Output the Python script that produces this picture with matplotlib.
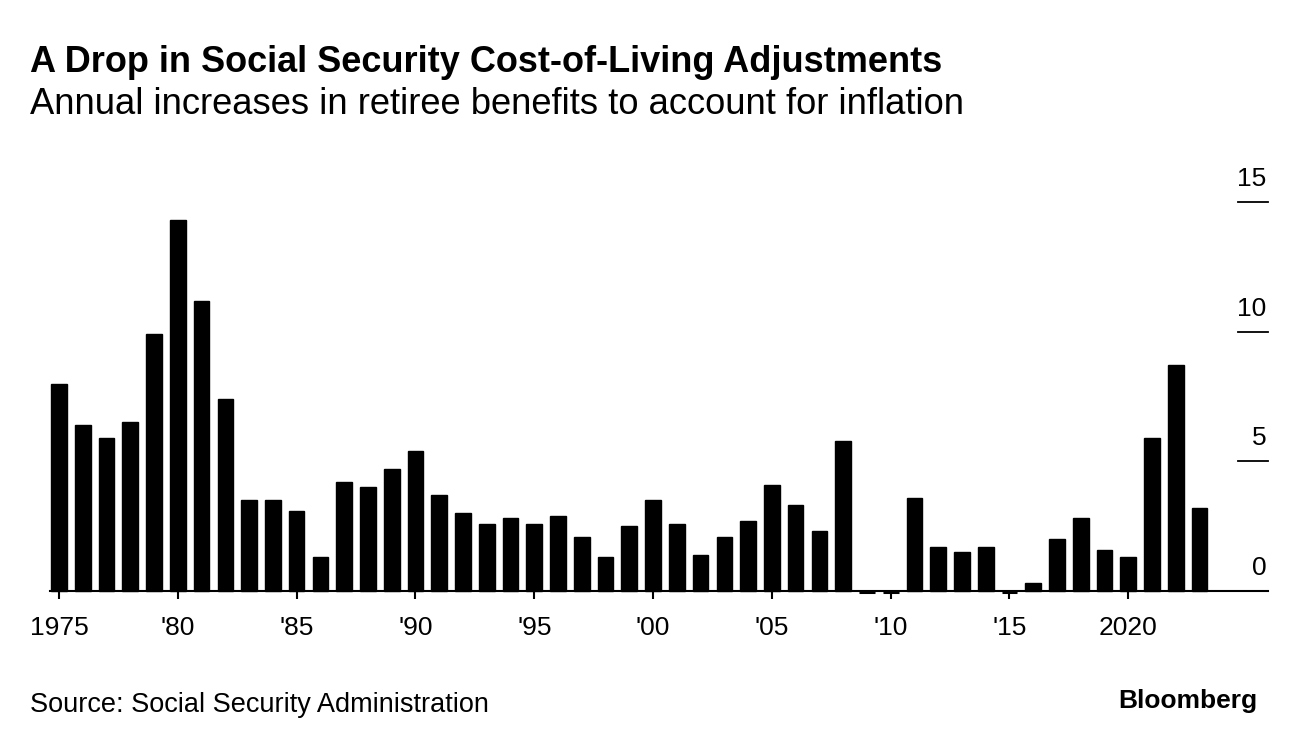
import matplotlib
matplotlib.use("Agg")
import matplotlib.pyplot as plt
from matplotlib.transforms import blended_transform_factory

# Social Security cost-of-living adjustments, percent
years = list(range(1975, 2024))
cola = [8.0, 6.4, 5.9, 6.5, 9.9, 14.3, 11.2, 7.4, 3.5, 3.5,
        3.1, 1.3, 4.2, 4.0, 4.7, 5.4, 3.7, 3.0, 2.6, 2.8,
        2.6, 2.9, 2.1, 1.3, 2.5, 3.5, 2.6, 1.4, 2.1, 2.7,
        4.1, 3.3, 2.3, 5.8, 0.0, 0.0, 3.6, 1.7, 1.5, 1.7,
        0.0, 0.3, 2.0, 2.8, 1.6, 1.3, 5.9, 8.7, 3.2]

xtick_years = [1975, 1980, 1985, 1990, 1995, 2000, 2005, 2010, 2015, 2020]
xtick_labels = ["1975", "'80", "'85", "'90", "'95", "'00", "'05", "'10", "'15", "2020"]
ytick_values = [0, 5, 10, 15]

plt.rcParams['font.family'] = ['Liberation Sans', 'DejaVu Sans']

fig = plt.figure(figsize=(12.96, 7.46), dpi=100)
ax = fig.add_axes([50 / 1296, 155 / 746, 1218 / 1296, 389 / 746])

ax.bar(years, cola, width=0.66, color='black', edgecolor='black',
       linewidth=1.0, clip_on=False, zorder=2)

ax.set_xlim(1974.62, 2025.88)
ax.set_ylim(0, 15)

for s in ['top', 'right', 'left']:
    ax.spines[s].set_visible(False)
ax.spines['bottom'].set_linewidth(1.5)
ax.spines['bottom'].set_zorder(1)

ax.set_xticks(xtick_years)
ax.set_xticklabels(xtick_labels, fontsize=19)
ax.tick_params(axis='x', direction='out', length=6, width=1.5, pad=12)
ax.set_yticks([])

# zero-value years still get a thin dash on the baseline
zero_years = [y for y, v in zip(years, cola) if v == 0]
ax.hlines([-0.04] * len(zero_years), [y - 0.33 for y in zero_years],
          [y + 0.33 for y in zero_years], color='black', linewidth=2.2,
          clip_on=False, zorder=3)

# right-hand value ticks: short lines with labels sitting above them
trans = blended_transform_factory(ax.transAxes, ax.transData)
for v in ytick_values:
    if v > 0:
        ax.plot([0.975, 1.0], [v, v], transform=trans, color='black',
                linewidth=1.3, clip_on=False)
    ax.annotate(str(v), xy=(1.0, v), xycoords=trans, xytext=(-1, 8),
                textcoords='offset points', ha='right', va='bottom',
                fontsize=19)

fig.text(30 / 1296, 1 - 62 / 746, "A Drop in Social Security Cost-of-Living Adjustments",
         fontsize=26, fontweight='bold', va='center', ha='left')
fig.text(30 / 1296, 1 - 104 / 746, "Annual increases in retiree benefits to account for inflation",
         fontsize=26.2, va='center', ha='left')
fig.text(30 / 1296, 1 - 705 / 746, "Source: Social Security Administration",
         fontsize=19.5, va='center', ha='left')
fig.text(1257 / 1296, 1 - 701 / 746, "Bloomberg",
         fontsize=19, fontweight='bold', va='center', ha='right')

fig.savefig("out.png", dpi=100)
